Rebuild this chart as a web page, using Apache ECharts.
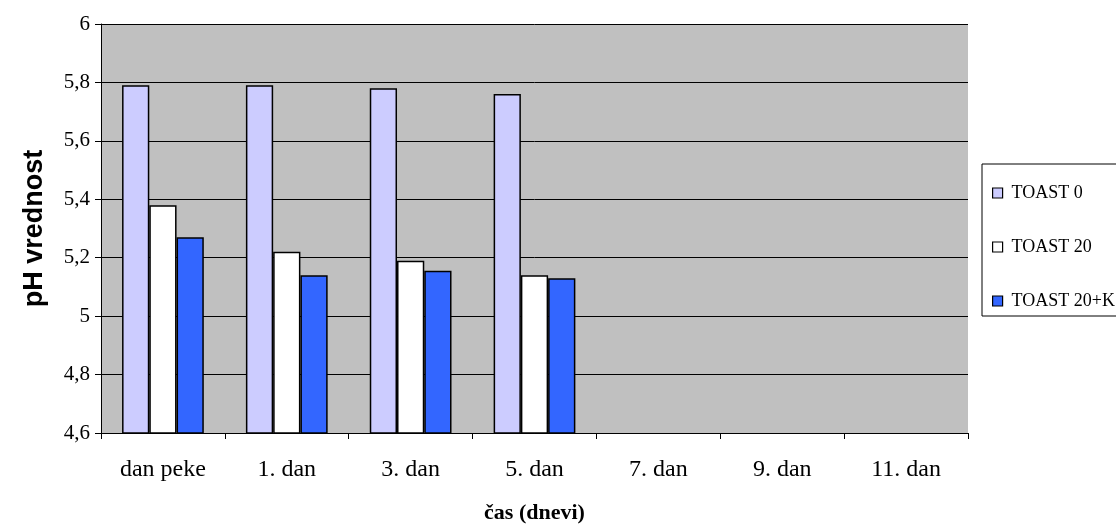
<!DOCTYPE html>
<html>
<head>
<meta charset="utf-8">
<script src="https://cdn.jsdelivr.net/npm/echarts@6/dist/echarts.min.js"></script>
<style>
  html, body { margin: 0; padding: 0; background: #fff; }
  #main_chart { width: 1116px; height: 530px; }
</style>
</head>
<body>
<div id="main_chart"></div>
<script>
// categories (days) and pH values per sample
var days = ['dan peke', '1. dan', '3. dan', '5. dan', '7. dan', '9. dan', '11. dan'];
var toast0 = [5.79, 5.79, 5.78, 5.76, null, null, null];
var toast20 = [5.38, 5.22, 5.19, 5.14, null, null, null];
var toast20k = [5.27, 5.14, 5.155, 5.13, null, null, null];
var seriesNames = ['TOAST 0', 'TOAST 20', 'TOAST 20+K'];
var seriesColors = ['#CCCCFF', '#FFFFFF', '#3366FF'];

var myChart = echarts.init(document.getElementById('main_chart'));

// same bar look for each series
function makeBar(name, values, color) {
    return {
        name: name,
        type: 'bar',
        data: values,
        barGap: '0%',
        barCategoryGap: '34%',
        animation: false,
        itemStyle: {
            color: color,
            borderColor: '#000',
            borderWidth: 1.5
        }
    };
}

var option = {
    backgroundColor: '#fff',
    grid: {
        left: 101,
        right: 148,
        top: 24,
        bottom: 97,
        outerBoundsMode: 'none',
        containLabel: false,
        show: true,
        backgroundColor: '#C0C0C0',
        borderWidth: 0
    },
    legend: {
        orient: 'vertical',
        left: 982,
        top: 164,
        data: seriesNames,
        icon: 'rect',
        itemWidth: 10,
        itemHeight: 10,
        itemGap: 36,
        padding: [20, 60, 6, 10],
        backgroundColor: '#fff',
        borderColor: '#000',
        borderWidth: 1,
        textStyle: {
            fontFamily: 'Liberation Serif',
            fontSize: 18,
            color: '#000',
            padding: [0, 0, 0, 4]
        },
        itemStyle: {
            borderColor: '#000',
            borderWidth: 1.2
        }
    },
    xAxis: {
        type: 'category',
        data: days,
        name: 'čas (dnevi)',
        nameLocation: 'middle',
        nameGap: 69,
        nameTextStyle: {
            fontFamily: 'Liberation Serif',
            fontWeight: 'bold',
            fontSize: 22,
            color: '#000'
        },
        axisLine: { lineStyle: { color: '#000', width: 1 } },
        axisTick: { show: true, length: 6, alignWithLabel: false, lineStyle: { color: '#000' } },
        axisLabel: {
            fontFamily: 'Liberation Serif',
            fontSize: 24,
            color: '#000',
            margin: 25
        }
    },
    yAxis: {
        type: 'value',
        min: 4.6,
        max: 6,
        interval: 0.2,
        name: 'pH vrednost',
        nameLocation: 'middle',
        nameGap: 53,
        nameRotate: 90,
        nameTextStyle: {
            fontFamily: 'Liberation Sans',
            fontWeight: 'bold',
            fontSize: 27,
            color: '#000'
        },
        axisLine: { show: true, lineStyle: { color: '#000', width: 1 } },
        axisTick: { show: true, length: 6, lineStyle: { color: '#000' } },
        splitLine: { show: true, lineStyle: { color: '#000', width: 1 } },
        axisLabel: {
            fontFamily: 'Liberation Serif',
            fontSize: 21,
            color: '#000',
            margin: 11,
            formatter: function (v) {
                return String(Math.round(v * 10) / 10).replace('.', ',');
            }
        }
    },
    series: [
        makeBar(seriesNames[0], toast0, seriesColors[0]),
        makeBar(seriesNames[1], toast20, seriesColors[1]),
        makeBar(seriesNames[2], toast20k, seriesColors[2])
    ]
};

myChart.setOption(option);
</script>
</body>
</html>
